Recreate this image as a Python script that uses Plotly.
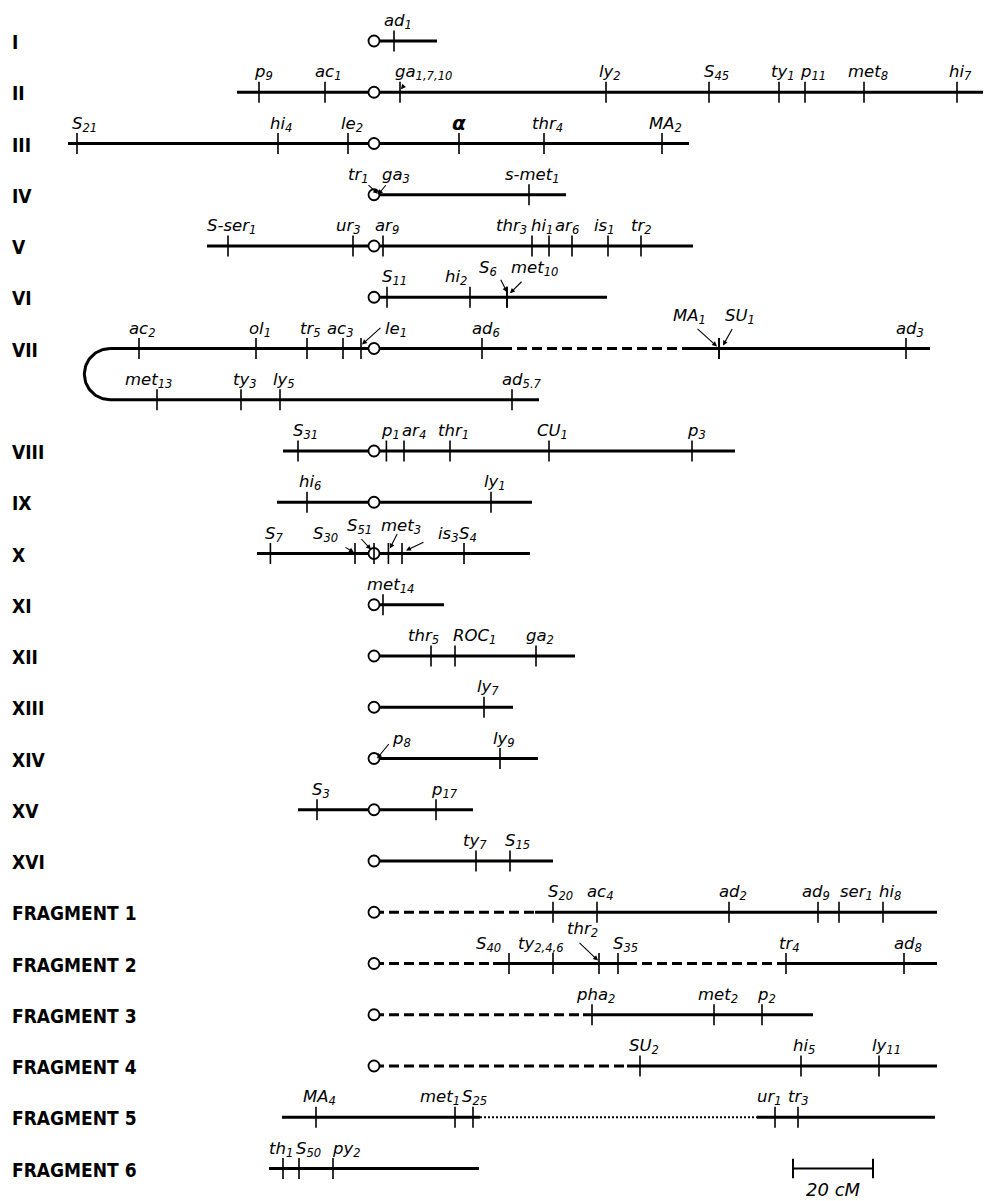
import numpy as np
import plotly.graph_objects as go

# ---------------- data (positions in cM, centromere = 0) ----------------
ROW_NAMES = ["I", "II", "III", "IV", "V", "VI", "VII", "VIII", "IX", "X", "XI", "XII",
             "XIII", "XIV", "XV", "XVI", "FRAGMENT 1", "FRAGMENT 2", "FRAGMENT 3",
             "FRAGMENT 4", "FRAGMENT 5", "FRAGMENT 6"]
ROW_INDEX = [0, 1, 2, 3, 4, 5, 6, 8, 9, 10, 11, 12, 13, 14, 15, 16, 17, 18, 19, 20, 21, 22]
CENTROMERE_ROWS = [0, 1, 2, 3, 4, 5, 6, 8, 9, 10, 11, 12, 13, 14, 15, 16, 17, 18, 19, 20]

SEG_ROW = [0, 1, 2, 3, 4, 5, 6, 6, 6, 7, 8, 9, 10, 11, 12, 13, 14, 15, 16,
           17, 17, 18, 18, 18, 18, 19, 19, 20, 20, 21, 21, 21, 22]
SEG_START = [0, -34.25, -76.5, 0, -41.75, 0, -66, 32, 79, -66, -22.75, -24.25, -29.25, 0, 0, 0, 0, -19, 0,
             0, 40.25, 0, 29.75, 63.25, 100.75, 0, 52.25, 0, 63.25, -23, 26.5, 95.75, -26.25]
SEG_END = [15.75, 152.25, 78.75, 48, 79.75, 58.25, 32, 79, 139, 41.25, 90.25, 39.5, 39, 17.5, 50.25, 34.75, 41, 24.75, 44.75,
           40.25, 140.75, 29.75, 63.25, 100.75, 140.75, 52.25, 109.75, 63.25, 140.75, 26.5, 95.75, 140.25, 26.25]
SEG_KIND = ["solid", "solid", "solid", "solid", "solid", "solid", "solid", "dash", "solid", "solid",
            "solid", "solid", "solid", "solid", "solid", "solid", "solid", "solid", "solid",
            "dash", "solid", "dash", "solid", "dash", "solid", "dash", "solid", "dash", "solid",
            "solid", "dot", "solid", "solid"]

LOOP_ROWS = (6, 7)      # chromosome VII folds back on itself
LOOP_X = -66

GENE_ROW = [0,
            1, 1, 1, 1, 1, 1, 1, 1, 1,
            2, 2, 2, 2, 2, 2,
            3, 3, 3,
            4, 4, 4, 4, 4, 4, 4, 4,
            5, 5, 5, 5,
            6, 6, 6, 6, 6, 6, 6, 6, 6,
            7, 7, 7, 7,
            8, 8, 8, 8, 8, 8,
            9, 9,
            10, 10, 10, 10, 10, 10,
            11,
            12, 12, 12,
            13,
            14, 14,
            15, 15,
            16, 16,
            17, 17, 17, 17, 17, 17,
            18, 18, 18, 18, 18, 18,
            19, 19, 19,
            20, 20, 20,
            21, 21, 21, 21, 21,
            22, 22, 22]
GENE_POS = [5,
            -28.75, -12.25, 6.5, 58, 83.75, 101.25, 107.75, 122.5, 145.75,
            -74.25, -24, -6.5, 21.25, 42.5, 72,
            0, 0, 38.75,
            -36.5, -5.25, 2.25, 39.5, 43.75, 49.5, 58.5, 66.75,
            3.25, 24, 33.25, 33.25,
            -58.75, -29.5, -16.75, -7.75, -3.25, 27, 86.25, 86.25, 133,
            -54.25, -33.25, -23.5, 34.5,
            -19, 3.1, 7.5, 19, 43.75, 79.5,
            -16.75, 29.25,
            -25.9, -4.75, 0, 3.6, 7, 22.5,
            2.25,
            14.25, 20.25, 40.5,
            27.5,
            0, 31.5,
            -14.25, 15.5,
            25.5, 34,
            44.75, 55.75, 88.75, 111, 116.25, 127.25,
            33.75, 44.75, 56.25, 61, 103, 132.5,
            54.5, 85, 97,
            66.5, 106.75, 126.25,
            -14.5, 20.25, 24.75, 100.25, 106,
            -22.75, -18.75, -10.25]
GENE_LABEL = ["ad|1",
              "p|9", "ac|1", "ga|1,7,10", "ly|2", "S|45", "ty|1", "p|11", "met|8", "hi|7",
              "S|21", "hi|4", "le|2", "α|", "thr|4", "MA|2",
              "tr|1", "ga|3", "s-met|1",
              "S-ser|1", "ur|3", "ar|9", "thr|3", "hi|1", "ar|6", "is|1", "tr|2",
              "S|11", "hi|2", "S|6", "met|10",
              "ac|2", "ol|1", "tr|5", "ac|3", "le|1", "ad|6", "MA|1", "SU|1", "ad|3",
              "met|13", "ty|3", "ly|5", "ad|5.7",
              "S|31", "p|1", "ar|4", "thr|1", "CU|1", "p|3",
              "hi|6", "ly|1",
              "S|7", "S|30", "S|51", "met|3", "is|3", "S|4",
              "met|14",
              "thr|5", "ROC|1", "ga|2",
              "ly|7",
              "p|8", "ly|9",
              "S|3", "p|17",
              "ty|7", "S|15",
              "S|20", "ac|4", "ad|2", "ad|9", "ser|1", "hi|8",
              "S|40", "ty|2,4,6", "thr|2", "S|35", "tr|4", "ad|8",
              "pha|2", "met|2", "p|2",
              "SU|2", "hi|5", "ly|11",
              "MA|4", "met|1", "S|25", "ur|1", "tr|3",
              "th|1", "S|50", "py|2"]
NO_TICK = ["tr|1", "ga|3", "p|8"]   # loci marked by arrow only

SCALE_CM = 20
SCALE_START = 104.75
SCALE_ROW = 22

# ---------------- styling ----------------
LABEL_NUDGE = {  # label: (dx px, extra height px)
    "ga|1,7,10": (5, 0), "tr|1": (-19, 0), "ga|3": (18, 0), "ur|3": (-8, 0), "thr|3": (-24, 0),
    "hi|1": (-10, 0), "ar|6": (-9, 0), "is|1": (-7, 0), "tr|2": (-3, 0), "hi|2": (-17, 0),
    "S|6": (-23, 9), "met|10": (20, 9), "ac|3": (-6, 0), "le|1": (31, 0), "MA|1": (-33, 13),
    "SU|1": (17, 13), "met|13": (-16, 0), "ar|4": (6, 0), "S|30": (-37, 0), "S|51": (-22, 8),
    "met|3": (9, 8), "is|3": (43, 0), "thr|5": (-11, 0), "ROC|1": (16, 0), "p|8": (23, 0),
    "ty|7": (-5, 0), "ad|9": (-6, 0), "ser|1": (14, 0), "hi|8": (4, 0), "S|40": (-28, 0),
    "ty|2,4,6": (-27, 0), "thr|2": (-20, 15), "met|1": (-19, 0), "S|25": (-6, 0), "ur|1": (-9, 0),
    "tr|3": (-3, 0), "th|1": (-6, 0), "S|50": (2, 0), "py|2": (9, 0),
}
# arrows: label -> (tail dx, tail dy, head dx, head dy) in px relative to locus on the line
ARROWS = {
    "ga|1,7,10": (5, -8, 1, -3), "tr|1": (-7, -11, 4, -1), "ga|3": (13, -11, 4, 0),
    "S|6": (-7, -19, 0, -5), "met|10": (16, -17, 3, -4), "le|1": (21, -22, 1, -4),
    "MA|1": (-23, -21, -2, -2), "SU|1": (14, -21, 4, -3), "S|30": (-11, -7, -1, -1),
    "S|51": (-14, -16, -3, -4), "met|3": (9.5, -21, 1.5, -5), "is|3": (23, -12, 4, -3),
    "p|8": (16, -16, 3, 0), "thr|2": (-21, -22, -1, -3),
}

W, H = 985, 1201
CENTRO_PX, PX_PER_CM = 374, 4.0
ROW0_PX, ROW_STEP_PX = 41, 51.25
X_RANGE = [-CENTRO_PX / PX_PER_CM, (W - CENTRO_PX) / PX_PER_CM]
Y_RANGE = [(H - ROW0_PX) / ROW_STEP_PX, -ROW0_PX / ROW_STEP_PX]

GENE_FONT = "DejaVu Sans"
GENE_SIZE = 16.5
CHAR_W = {"a": .613, "c": .550, "d": .635, "e": .615, "g": .635, "h": .634, "i": .278, "l": .278,
          "m": .974, "o": .612, "p": .635, "r": .411, "s": .521, "t": .392, "u": .634, "y": .592,
          "S": .635, "M": .863, "A": .684, "U": .732, "C": .698, "O": .787, "R": .695, "-": .361,
          "α": .659}

fig = go.Figure()

# chromosome lines
for kind, dash, width in [("solid", "solid", 3), ("dash", "10px,5px", 3), ("dot", "2px,2px", 2)]:
    xs, ys = [], []
    for r, s, e, k in zip(SEG_ROW, SEG_START, SEG_END, SEG_KIND):
        if k == kind:
            xs += [s, e, None]
            ys += [r, r, None]
    fig.add_trace(go.Scatter(x=xs, y=ys, mode="lines", line=dict(color="black", width=width, dash=dash),
                             hoverinfo="skip"))

# fold of chromosome VII
t = np.linspace(0, np.pi, 60)
r_top, r_bot = LOOP_ROWS
cy, ry = (r_top + r_bot) / 2, (r_bot - r_top) / 2
rx = ry * ROW_STEP_PX / PX_PER_CM
fig.add_trace(go.Scatter(x=LOOP_X - rx * np.sin(t), y=cy - ry * np.cos(t), mode="lines",
                         line=dict(color="black", width=3), hoverinfo="skip"))

# centromeres
fig.add_trace(go.Scatter(x=[0] * len(CENTROMERE_ROWS), y=CENTROMERE_ROWS, mode="markers",
                         marker=dict(symbol="circle", size=11, color="white",
                                     line=dict(color="black", width=1.8)), hoverinfo="skip"))

# gene ticks
tx = [p for p, l in zip(GENE_POS, GENE_LABEL) if l not in NO_TICK]
ty = [r for r, l in zip(GENE_ROW, GENE_LABEL) if l not in NO_TICK]
fig.add_trace(go.Scatter(x=tx, y=ty, mode="markers",
                         marker=dict(symbol="line-ns", size=15, color="black",
                                     line=dict(color="black", width=1.6)), hoverinfo="skip"))

# scale bar
fig.add_trace(go.Scatter(x=[SCALE_START, SCALE_START + SCALE_CM], y=[SCALE_ROW, SCALE_ROW], mode="lines+markers",
                         line=dict(color="black", width=2),
                         marker=dict(symbol="line-ns", size=14, line=dict(color="black", width=2)),
                         hoverinfo="skip"))

annotations = []
for r, p, lab in zip(GENE_ROW, GENE_POS, GENE_LABEL):
    main, sub = lab.split("|")
    w = sum(CHAR_W.get(c, .6) for c in main) * GENE_SIZE
    dx, dy = LABEL_NUDGE.get(lab, (0, 0))
    if main == "α":
        txt = "<b>α</b>"
        size = 20
        w = 0.659 * size
    else:
        txt = main + (f"<sub>{sub}</sub>" if sub else "")
        size = GENE_SIZE
    annotations.append(dict(x=p, y=r, xref="x", yref="y", text=txt, showarrow=False,
                            xanchor="left", yanchor="bottom", xshift=dx - w / 2 - 2, yshift=7 + dy,
                            font=dict(family=GENE_FONT, size=size, color="black", style="italic")))
    if lab in ARROWS:
        tdx, tdy, hdx, hdy = ARROWS[lab]
        annotations.append(dict(x=p, y=r, xref="x", yref="y", text="", showarrow=True,
                                xshift=hdx, yshift=-hdy, ax=tdx - hdx, ay=tdy - hdy,
                                arrowhead=2, arrowsize=0.9, arrowwidth=1.1, arrowcolor="black",
                                standoff=0, startstandoff=0))

for name, r in zip(ROW_NAMES, ROW_INDEX):
    annotations.append(dict(x=10 / W, y=r, xref="paper", yref="y", text=name, showarrow=False,
                            xanchor="left", yanchor="middle", yshift=-1,
                            font=dict(family="DejaVu Sans Condensed, Liberation Sans Narrow",
                                      size=19, color="black", weight="bold")))

annotations.append(dict(x=SCALE_START + SCALE_CM / 2, y=SCALE_ROW, xref="x", yref="y", text=f"{SCALE_CM} cM",
                        showarrow=False, xanchor="center", yanchor="top", yshift=-8,
                        font=dict(family=GENE_FONT, size=18, color="black", style="italic")))

fig.update_layout(width=W, height=H, margin=dict(l=0, r=0, t=0, b=0, pad=0),
                  paper_bgcolor="white", plot_bgcolor="white", showlegend=False,
                  xaxis=dict(range=X_RANGE, visible=False, fixedrange=True),
                  yaxis=dict(range=Y_RANGE, visible=False, fixedrange=True),
                  annotations=annotations)

fig.write_html("out.html", config={"displayModeBar": False},
               post_script="document.body.style.margin='0px';")
